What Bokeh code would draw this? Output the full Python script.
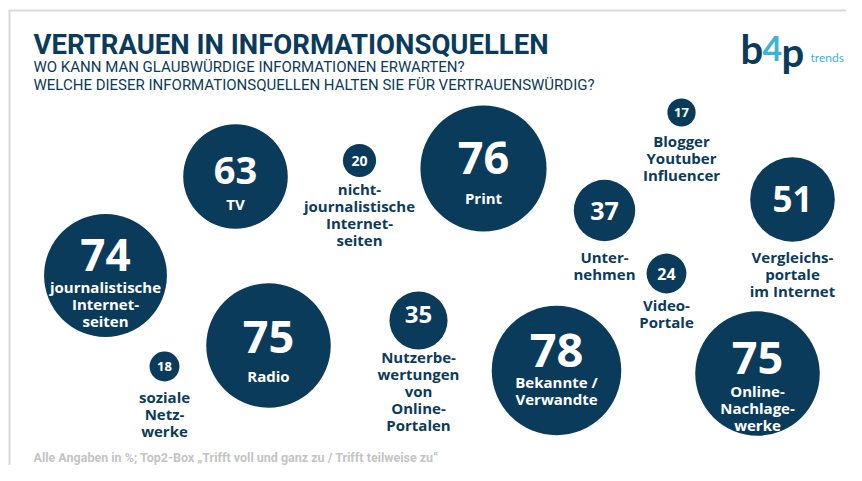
from bokeh.plotting import figure
from bokeh.models import Range1d, ColumnDataSource
from bokeh.core.properties import value
from bokeh.embed import file_html
from bokeh.resources import INLINE

# ---- data ----
categories = [
    "TV", "nicht-\njournalistische\nInternet-\nseiten", "Print", "Blogger\nYoutuber\nInfluencer",
    "Unter-\nnehmen", "Vergleichs-\nportale\nim Internet", "journalistische\nInternet-\nseiten",
    "soziale\nNetz-\nwerke", "Radio", "Nutzerbe-\nwertungen\nvon\nOnline-\nPortalen",
    "Bekannte /\nVerwandte", "Video-\nPortale", "Online-\nNachlage-\nwerke",
]
values = [63, 20, 76, 17, 37, 51, 74, 18, 75, 35, 78, 24, 75]

# ---- layout (pixel positions on the page) ----
pos_x = [235, 359, 483, 681, 604, 792, 105, 164, 268, 418, 556, 666, 757]
pos_y = [176, 160, 168, 112, 210, 199, 275, 366, 345, 320, 370, 273, 373]
num_y = [170, 160, 157, 112, 210, 198, 254, 366, 336, 314, 350, 273, 357]
label_y0 = [203, 188, 197, 140, 256, 256, 286, 396, 375, 356, 381, 304, 390]
label_inside = [True, False, True, False, False, False, True, False, True, False, True, False, True]

NAVY = "#0b3b5b"
CYAN = "#3fb3d3"
FONT = "Open Sans"

W, H = 846, 465
p = figure(width=W, height=H, output_backend="svg", toolbar_location=None,
           x_range=Range1d(0, W), y_range=Range1d(H, 0),
           min_border=0, outline_line_color=None, background_fill_color="white")
p.axis.visible = False
p.grid.visible = False

# frame lines
p.segment(x0=[8, 9], y0=[10, 10], x1=[W, 9], y1=[10, H], line_color="#d9d9d9", line_width=2)

# bubbles
radii = [v * 0.83 for v in values]
p.circle(x=pos_x, y=pos_y, radius=radii, fill_color=NAVY, line_color=None)

num_x, num_yy, num_t, num_s = [], [], [], []
lab_x, lab_y, lab_t, lab_c = [], [], [], []
for c, v, x, ny, ly0, r, inside in zip(categories, values, pos_x, num_y, label_y0, radii, label_inside):
    fs = r * 0.72 if inside else max(r * 0.82, 13)
    num_x.append(x); num_yy.append(ny); num_t.append(str(v)); num_s.append(f"{fs:.0f}px")
    for i, ln in enumerate(c.split("\n")):
        lab_x.append(x); lab_y.append(ly0 + i * 17); lab_t.append(ln)
        lab_c.append("white" if inside else NAVY)

src_n = ColumnDataSource(dict(x=num_x, y=num_yy, t=num_t, s=num_s))
p.text(x="x", y="y", text="t", source=src_n, text_font=value(FONT), text_font_style="bold",
       text_font_size="s", text_color="white", text_align="center", text_baseline="middle")
src_l = ColumnDataSource(dict(x=lab_x, y=lab_y, t=lab_t, c=lab_c))
p.text(x="x", y="y", text="t", source=src_l, text_font=value(FONT), text_font_style="bold",
       text_font_size="15px", text_color="c", text_align="center", text_baseline="middle")

# titles
p.text(x=[33], y=[44], text=["VERTRAUEN IN INFORMATIONSQUELLEN"], text_font=value("Roboto"),
       text_font_style="bold", text_font_size="27.5px", text_color=NAVY, text_baseline="middle")
p.text(x=[33, 33], y=[66, 84], text=["WO KANN MAN GLAUBWÜRDIGE INFORMATIONEN ERWARTEN?",
                                     "WELCHE DIESER INFORMATIONSQUELLEN HALTEN SIE FÜR VERTRAUENSWÜRDIG?"],
       text_font=value("Roboto"), text_font_size="15px", text_color=NAVY, text_baseline="middle")

# footer
p.text(x=[33], y=[457], text=["Alle Angaben in %; Top2-Box „Trifft voll und ganz zu / Trifft teilweise zu“"],
       text_font=value("Roboto"), text_font_style="bold", text_font_size="12.5px", text_color="#c4c4c4",
       text_baseline="middle")

# logo
p.text(x=[740], y=[48], text=["b"], text_font=value("Lato"), text_font_style="bold",
       text_font_size="40px", text_color=NAVY, text_baseline="middle")
p.text(x=[762], y=[48], text=["4"], text_font=value("Lato"), text_font_style="bold",
       text_font_size="34px", text_color=CYAN, text_baseline="middle")
p.text(x=[781], y=[51], text=["p"], text_font=value("Lato"), text_font_style="bold",
       text_font_size="40px", text_color=NAVY, text_baseline="middle")
p.text(x=[810], y=[57], text=["trends"], text_font=value("Lato"),
       text_font_size="12px", text_color=CYAN, text_baseline="middle")

open("out.html", "w").write(file_html(p, INLINE))
